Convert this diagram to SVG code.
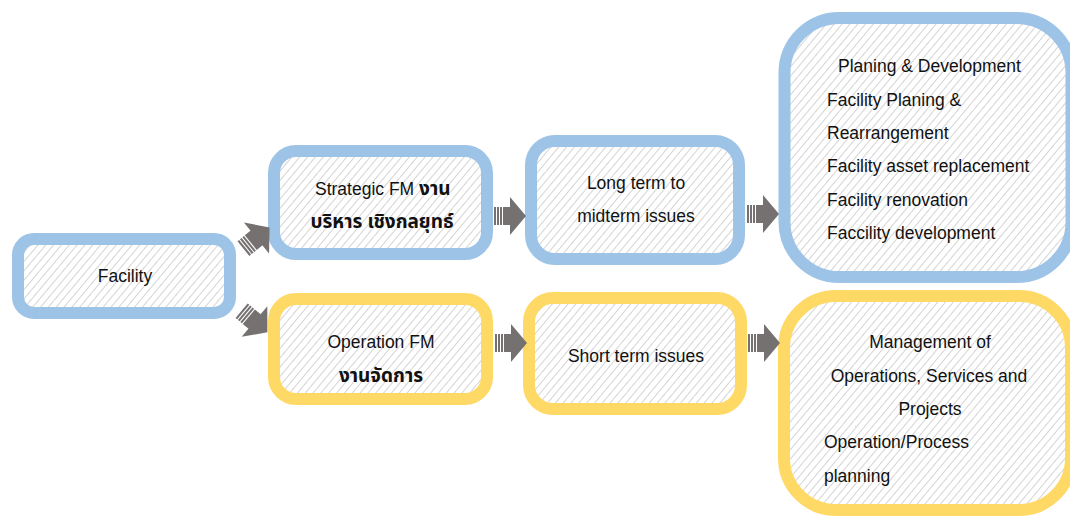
<svg xmlns="http://www.w3.org/2000/svg" width="1070" height="521" viewBox="0 0 1070 521">
  <defs>
    <pattern id="hatch" width="6" height="6" patternUnits="userSpaceOnUse" patternTransform="rotate(40)">
      <rect width="6" height="6" fill="#ffffff"/>
      <line x1="0" y1="0" x2="0" y2="6" stroke="#c6c6c6" stroke-width="1.5"/>
    </pattern>
    <!-- block arrow pointing right, origin at head base -->
    <g id="arrow">
      <rect x="-16" y="-9" width="2" height="18"/>
      <rect x="-13" y="-9" width="2" height="18"/>
      <rect x="-10" y="-9" width="2" height="18"/>
      <rect x="-7" y="-9" width="7.5" height="18"/>
      <polygon points="0,-19 16,0 0,19"/>
    </g>
  </defs>
  <style>
    .box { fill: url(#hatch); stroke-width: 12; }
    .blue { stroke: #9DC3E6; }
    .yellow { stroke: #FFD966; }
    text { font-family: "Liberation Sans", Arial, "Noto Sans Thai", "Noto Sans", sans-serif; font-size: 17.5px; fill: #111111; }
    .c { text-anchor: middle; }
    .th { font-weight: bold; font-size: 19px; }
    #connectors { fill: #767171; }
  </style>

  <rect width="1070" height="521" fill="#ffffff"/>

  <g id="facility">
    <rect class="box blue" x="18" y="239" width="212" height="74" rx="16"/>
    <text class="c" x="125" y="282">Facility</text>
  </g>

  <g id="strategic-fm">
    <rect class="box blue" x="274" y="151" width="213" height="103" rx="22"/>
    <text x="315" y="195">Strategic FM <tspan class="th">งาน</tspan></text>
    <text class="c th" x="382" y="228">บริหาร เชิงกลยุทธ์</text>
  </g>

  <g id="long-term">
    <rect class="box blue" x="531" y="141" width="208" height="118" rx="24"/>
    <text class="c" x="636" y="189">Long term to</text>
    <text class="c" x="636" y="222">midterm issues</text>
  </g>

  <g id="planning-development">
    <rect class="box blue" x="784.5" y="18" width="287" height="259" rx="55"/>
    <text x="838" y="72">Planing &amp; Development</text>
    <text x="827" y="106">Facility Planing &amp;</text>
    <text x="827" y="139">Rearrangement</text>
    <text x="827" y="172">Facility asset replacement</text>
    <text x="827" y="206">Facility renovation</text>
    <text x="827" y="239">Faccility development</text>
  </g>

  <g id="operation-fm">
    <rect class="box yellow" x="274" y="299" width="213" height="100" rx="22"/>
    <text class="c" x="381" y="348">Operation FM</text>
    <text class="c th" x="381" y="382">งานจัดการ</text>
  </g>

  <g id="short-term">
    <rect class="box yellow" x="529" y="298" width="212" height="111" rx="24"/>
    <text class="c" x="636" y="362">Short term issues</text>
  </g>

  <g id="operations-management">
    <rect class="box yellow" x="784" y="296" width="287" height="214" rx="52"/>
    <text class="c" x="930" y="348">Management of</text>
    <text class="c" x="929" y="382">Operations, Services and</text>
    <text class="c" x="930" y="415">Projects</text>
    <text x="824" y="448">Operation/Process</text>
    <text x="824" y="482">planning</text>
  </g>

  <g id="connectors">
    <use href="#arrow" transform="translate(256.5,238) rotate(-39) scale(1.05)"/>
    <use href="#arrow" transform="translate(254.5,321.5) rotate(40) scale(1.05)"/>
    <use href="#arrow" transform="translate(510,216)"/>
    <use href="#arrow" transform="translate(763,214)"/>
    <use href="#arrow" transform="translate(511,343)"/>
    <use href="#arrow" transform="translate(764,343)"/>
  </g>
</svg>
